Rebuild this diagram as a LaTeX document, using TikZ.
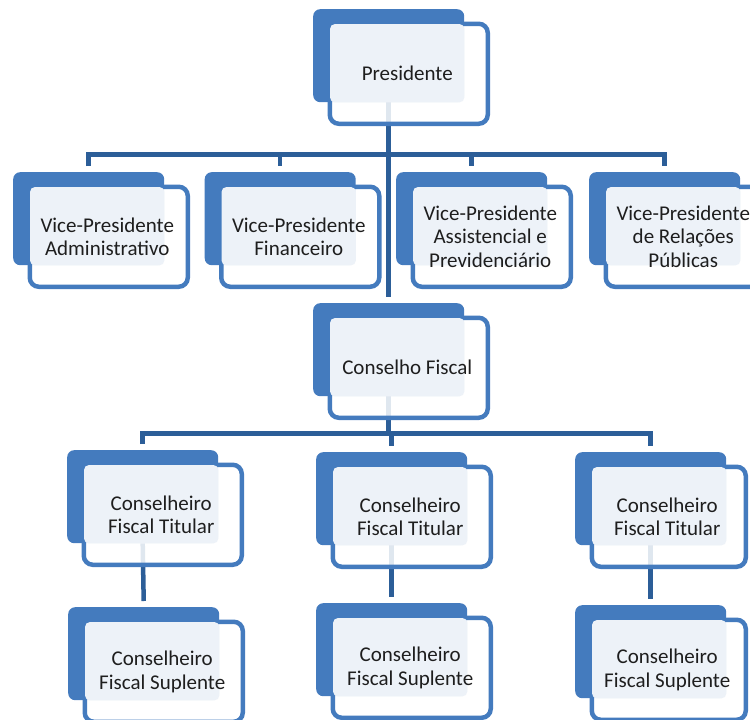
\documentclass[tikz,border=0pt]{standalone}
\usepackage{fontspec}
\setmainfont{Carlito}
\usetikzlibrary{calc}
\pgfdeclarelayer{background}
\pgfsetlayers{background,main}

\definecolor{unitblue}{HTML}{447BBE}
\definecolor{linkblue}{HTML}{2C5E98}
\definecolor{paleblue}{HTML}{EDF2F8}
\definecolor{inktext}{HTML}{1E1E1E}

\tikzset{
  backbox/.style={fill=unitblue, rounded corners=7pt, minimum width=151pt,
    minimum height=93pt, inner sep=0pt, anchor=north west},
  framebox/.style={draw=unitblue, line width=4.5pt, fill=white,
    fill opacity=0.85, draw opacity=1, rounded corners=9pt,
    minimum height=100pt, inner sep=0pt, anchor=north west},
  unittext/.style={text=inktext, align=center,
    font=\fontsize{21}{23.5}\selectfont, inner sep=0pt},
  link/.style={draw=linkblue, line width=4.5pt},
}

% \orgunit[frame width]{name}{x}{y}{label}: filled back card, outlined frame, pale panel, label
\newcommand\orgunit[5][158]{%
  \node[backbox] (#2) at (#3,#4) {};
  \node[framebox, minimum width=#1pt] (#2f) at ($(#2.north west)+(14.5,12.5)$) {};
  \fill[paleblue, rounded corners=5pt] ($(#2f.north west)+(2.5,2.5)$) rectangle (#2.south east);
  \node[unittext] (#2t) at ($(#2f.center)+(-1.5,0)$) {#5};
}

\begin{document}
\begin{tikzpicture}[x=1pt, y=-1pt]
  \useasboundingbox (0,0) rectangle (750,720);
  \clip (0,0) rectangle (750,720);

  \orgunit{P}{313}{9}{Presidente}

  \orgunit{VP1}{13}{172}{Vice-Presidente\\Administrativo}
  \orgunit{VP2}{204.5}{172}{Vice-Presidente\\Financeiro}
  \orgunit{VP3}{396}{172}{Vice-Presidente\\Assistencial e\\Previdenciário}
  \orgunit{VP4}{589}{172}{Vice-Presidente\\de Relações\\Públicas}

  \orgunit{CF}{313}{303}{Conselho Fiscal}

  \orgunit{T1}{67}{450}{Conselheiro\\Fiscal Titular}
  \orgunit{T2}{316}{452}{Conselheiro\\Fiscal Titular}
  \orgunit[154]{T3}{575}{452}{Conselheiro\\Fiscal Titular}

  \orgunit{S1}{68}{607}{Conselheiro\\Fiscal Suplente}
  \orgunit{S2}{316}{603}{Conselheiro\\Fiscal Suplente}
  \orgunit[154]{S3}{575}{605}{Conselheiro\\Fiscal Suplente}

  \begin{pgfonlayer}{background}
    % upper bus: president to vice-presidents
    \coordinate (busA) at ($(P.south)+(0,52)$);
    \draw[link] ($(VP1.north)+(0,-6)$) -- (VP1.north |- busA)
      -- (VP4.north |- busA) -- ($(VP4.north)+(0,-6)$);
    \draw[link] (VP2.north |- busA) -- ($(VP2.north)+(0,-6)$);
    \draw[link] (VP3.north |- busA) -- ($(VP3.north)+(0,-6)$);
    \draw[link] (P.south) -- ($(CF.north)+(0,-6)$);

    % lower bus: fiscal council to its members
    \coordinate (busB) at ($(CF.south)+(0,37)$);
    \draw[link] (CF.south) -- (CF.south |- busB);
    \draw[link] ($(T1.north)+(0,-6)$) -- (T1.north |- busB)
      -- (T3.north |- busB) -- ($(T3.north)+(0,-6)$);
    \draw[link] (T2.north |- busB) -- ($(T2.north)+(0,-6)$);

    % titular to alternate
    \draw[link] (T1.south) -- ($(S1.north)+(0,-6)$);
    \draw[link] (T2.south) -- ($(S2.north)+(0,-6)$);
    \draw[link] (T3.south) -- ($(S3.north)+(0,-6)$);
  \end{pgfonlayer}
\end{tikzpicture}
\end{document}
